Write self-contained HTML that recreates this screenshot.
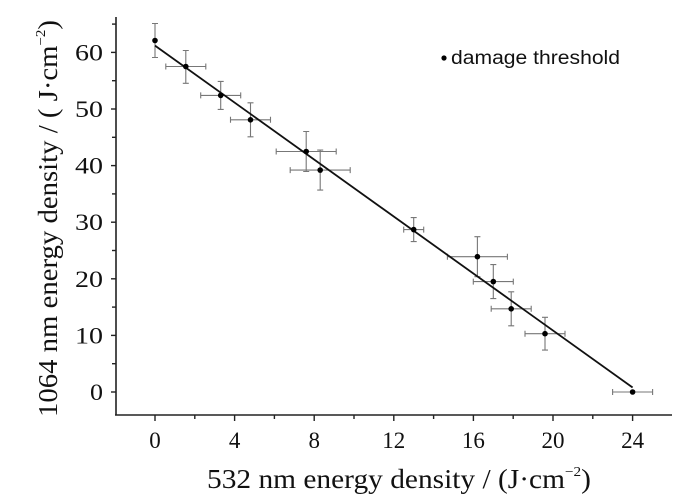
<!DOCTYPE html>
<html><head><meta charset="utf-8"><style>
html,body{margin:0;padding:0;background:#fff;}
svg{display:block;}
text{font-family:"Liberation Serif",serif;fill:#111;}
</style></head><body>
<svg width="689" height="504" viewBox="0 0 689 504" xmlns="http://www.w3.org/2000/svg">
<g stroke="#222" stroke-width="1.6" fill="none">
<line x1="116" y1="17" x2="116" y2="415.5"/>
<line x1="115" y1="415" x2="672" y2="415"/>
</g>
<g stroke="#222" stroke-width="1.4">
<line x1="111" y1="392" x2="116" y2="392"/><line x1="111" y1="335.4" x2="116" y2="335.4"/>
<line x1="111" y1="278.8" x2="116" y2="278.8"/><line x1="111" y1="222.2" x2="116" y2="222.2"/>
<line x1="111" y1="165.6" x2="116" y2="165.6"/><line x1="111" y1="109" x2="116" y2="109"/>
<line x1="111" y1="52.4" x2="116" y2="52.4"/>
<line x1="112" y1="363.7" x2="116" y2="363.7"/><line x1="112" y1="307.1" x2="116" y2="307.1"/>
<line x1="112" y1="250.5" x2="116" y2="250.5"/><line x1="112" y1="193.9" x2="116" y2="193.9"/>
<line x1="112" y1="137.3" x2="116" y2="137.3"/><line x1="112" y1="80.7" x2="116" y2="80.7"/>
<line x1="112" y1="24.1" x2="116" y2="24.1"/>
<line x1="155" y1="415" x2="155" y2="421"/><line x1="234.6" y1="415" x2="234.6" y2="421"/>
<line x1="314.2" y1="415" x2="314.2" y2="421"/><line x1="393.8" y1="415" x2="393.8" y2="421"/>
<line x1="473.4" y1="415" x2="473.4" y2="421"/><line x1="553" y1="415" x2="553" y2="421"/>
<line x1="632.6" y1="415" x2="632.6" y2="421"/>
<line x1="194.8" y1="415" x2="194.8" y2="419"/><line x1="274.4" y1="415" x2="274.4" y2="419"/>
<line x1="354" y1="415" x2="354" y2="419"/><line x1="433.6" y1="415" x2="433.6" y2="419"/>
<line x1="513.2" y1="415" x2="513.2" y2="419"/><line x1="592.8" y1="415" x2="592.8" y2="419"/>
</g>
<g font-size="23" text-anchor="end">
<text x="103" y="400" textLength="13" lengthAdjust="spacingAndGlyphs">0</text>
<text x="103" y="343.4" textLength="28" lengthAdjust="spacingAndGlyphs">10</text>
<text x="103" y="286.8" textLength="28" lengthAdjust="spacingAndGlyphs">20</text>
<text x="103" y="230.2" textLength="28" lengthAdjust="spacingAndGlyphs">30</text>
<text x="103" y="173.6" textLength="28" lengthAdjust="spacingAndGlyphs">40</text>
<text x="103" y="117" textLength="28" lengthAdjust="spacingAndGlyphs">50</text>
<text x="103" y="60.4" textLength="28" lengthAdjust="spacingAndGlyphs">60</text>
</g>
<g font-size="23" text-anchor="middle">
<text x="155" y="448">0</text><text x="234.6" y="448">4</text><text x="314.2" y="448">8</text>
<text x="393.8" y="448">12</text><text x="473.4" y="448">16</text><text x="553" y="448">20</text>
<text x="632.6" y="448">24</text>
</g>
<text x="207" y="488" font-size="27" textLength="384" lengthAdjust="spacingAndGlyphs">532 nm energy density / (J·cm<tspan font-size="14" dy="-12">−2</tspan><tspan dy="12">)</tspan></text>
<text transform="translate(57,417) rotate(-90)" font-size="27" textLength="397" lengthAdjust="spacingAndGlyphs">1064 nm energy density / ( J·cm<tspan font-size="14" dy="-12">−2</tspan><tspan dy="12">)</tspan></text>
<g stroke="#777" stroke-width="1.1">
<path d="M155 23.5V57.5M152 23.5h6M152 57.5h6"/>
<path d="M165.8 66.5H205.8M165.8 63.5v6M205.8 63.5v6M185.8 50.5V83.3M182.8 50.5h6M182.8 83.3h6"/>
<path d="M200.7 95.4H240.7M200.7 92.4v6M240.7 92.4v6M220.7 81.4V109.4M217.7 81.4h6M217.7 109.4h6"/>
<path d="M230.5 119.8H270.5M230.5 116.8v6M270.5 116.8v6M250.5 102.8V136.8M247.5 102.8h6M247.5 136.8h6"/>
<path d="M276.2 151.5H336.2M276.2 148.5v6M336.2 148.5v6M306.2 131.5V171.5M303.2 131.5h6M303.2 171.5h6"/>
<path d="M290.2 170.1H350.2M290.2 167.1v6M350.2 167.1v6M320.2 150.1V190.1M317.2 150.1h6M317.2 190.1h6"/>
<path d="M403.7 229.6H423.7M403.7 226.6v6M423.7 226.6v6M413.7 217.6V241.6M410.7 217.6h6M410.7 241.6h6"/>
<path d="M447.4 256.7H507.4M447.4 253.7v6M507.4 253.7v6M477.4 236.7V276.7M474.4 236.7h6M474.4 276.7h6"/>
<path d="M473.3 281.6H513.3M473.3 278.6v6M513.3 278.6v6M493.3 264.6V298.6M490.3 264.6h6M490.3 298.6h6"/>
<path d="M491.2 308.8H531.2M491.2 305.8v6M531.2 305.8v6M511.2 291.8V325.8M508.2 291.8h6M508.2 325.8h6"/>
<path d="M525 333.7H565M525 330.7v6M565 330.7v6M545 317.3V350.1M542 317.3h6M542 350.1h6"/>
<path d="M612.6 392H652.6M612.6 389v6M652.6 389v6"/>
</g>
<line x1="155" y1="45.6" x2="632.6" y2="387.5" stroke="#111" stroke-width="1.8"/>
<g fill="#000">
<circle cx="155" cy="40.5" r="2.8"/><circle cx="185.8" cy="66.5" r="2.8"/><circle cx="220.7" cy="95.4" r="2.8"/>
<circle cx="250.5" cy="119.8" r="2.8"/><circle cx="306.2" cy="151.5" r="2.8"/><circle cx="320.2" cy="170.1" r="2.8"/>
<circle cx="413.7" cy="229.6" r="2.8"/><circle cx="477.4" cy="256.7" r="2.8"/><circle cx="493.3" cy="281.6" r="2.8"/>
<circle cx="511.2" cy="308.8" r="2.8"/><circle cx="545" cy="333.7" r="2.8"/><circle cx="632.6" cy="392" r="2.8"/>
<circle cx="444" cy="58" r="2.6"/>
</g>
<text x="451" y="64" font-size="19" textLength="169" lengthAdjust="spacingAndGlyphs" style="font-family:'Liberation Sans Narrow','Liberation Sans',sans-serif">damage threshold</text>
</svg>
</body></html>
